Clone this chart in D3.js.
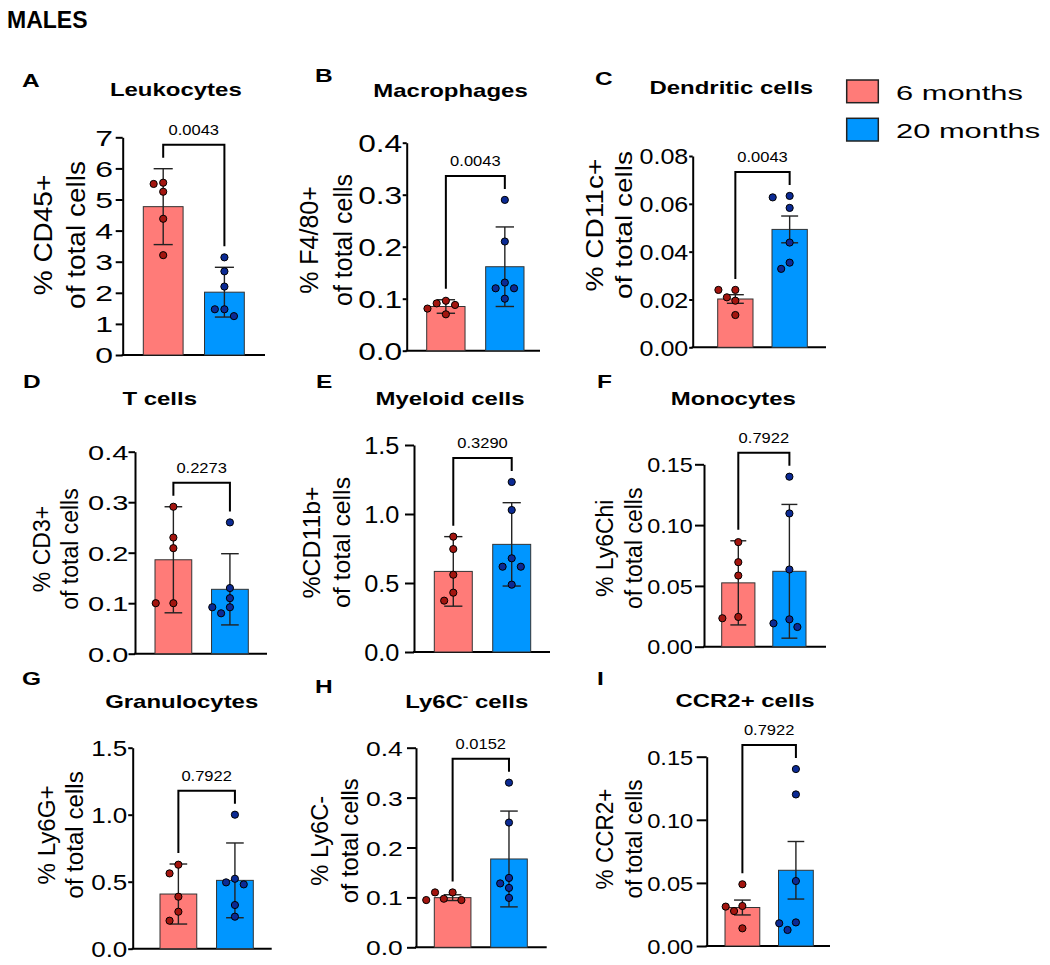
<!DOCTYPE html>
<html>
<head>
<meta charset="utf-8">
<script src="https://cdn.jsdelivr.net/npm/d3@7"></script>
<style>
  body { margin: 0; background: #fff; }
  text { font-family: Arial, "Liberation Sans", sans-serif; fill: #000; }
</style>
</head>
<body>
<svg id="chart" width="1050" height="965"></svg>
<script>
// ---- data ----
const groups = ['6 months', '20 months'];
const letters = ['A', 'B', 'C', 'D', 'E', 'F', 'G', 'H', 'I'];
const titles = ['Leukocytes', 'Macrophages', 'Dendritic cells', 'T cells', 'Myeloid cells',
  'Monocytes', 'Granulocytes', 'Ly6C- cells', 'CCR2+ cells'];
const yLabels = [
  ['% CD45+', 'of total cells'], ['% F4/80+', 'of total cells'], ['% CD11c+', 'of total cells'],
  ['% CD3+', 'of total cells'], ['%CD11b+', 'of total cells'], ['% Ly6Chi', 'of total cells'],
  ['% Ly6G+', 'of total cells'], ['% Ly6C-', 'of total cells'], ['% CCR2+', 'of total cells']
];
const yMax = [7, 0.4, 0.08, 0.4, 1.5, 0.15, 1.5, 0.4, 0.15];
const tickStep = [1, 0.1, 0.02, 0.1, 0.5, 0.05, 0.5, 0.1, 0.05];
const tickDecimals = [0, 1, 2, 1, 1, 2, 1, 1, 2];
const pValues = ['0.0043', '0.0043', '0.0043', '0.2273', '0.3290', '0.7922', '0.7922', '0.0152', '0.7922'];

const mean6 = [4.77, 0.085, 0.0202, 0.186, 0.584, 0.0525, 0.408, 0.0995, 0.0305];
const err6 = [1.22, 0.013, 0.0018, 0.105, 0.252, 0.0346, 0.224, 0.0058, 0.0059];
const mean20 = [2.02, 0.1615, 0.0493, 0.1275, 0.78, 0.062, 0.51, 0.177, 0.060];
const err20 = [0.80, 0.0765, 0.0056, 0.0705, 0.302, 0.055, 0.279, 0.096, 0.0228];

const points6 = [
  [5.54, 5.50, 5.25, 4.38, 3.21],
  [0.096, 0.091, 0.088, 0.081, 0.070],
  [0.0240, 0.0240, 0.0209, 0.0195, 0.0135],
  [0.291, 0.230, 0.209, 0.100, 0.100],
  [0.836, 0.746, 0.560, 0.430, 0.372],
  [0.086, 0.0695, 0.0585, 0.0245, 0.0234],
  [0.627, 0.562, 0.388, 0.276, 0.209],
  [0.110, 0.110, 0.0973, 0.0947, 0.0947],
  [0.0489, 0.0317, 0.0312, 0.0277, 0.014]
];
const points20 = [
  [3.14, 2.69, 2.20, 1.47, 1.47, 1.25],
  [0.290, 0.210, 0.131, 0.120, 0.120, 0.100],
  [0.0633, 0.0627, 0.0583, 0.0438, 0.0354, 0.0328],
  [0.260, 0.130, 0.110, 0.092, 0.092, 0.080],
  [1.232, 1.029, 0.679, 0.618, 0.618, 0.488],
  [0.1398, 0.1096, 0.0635, 0.0225, 0.0192, 0.0162],
  [1.0, 0.522, 0.495, 0.480, 0.326, 0.239],
  [0.330, 0.250, 0.139, 0.128, 0.119, 0.099],
  [0.1402, 0.1201, 0.0515, 0.0187, 0.018, 0.0127]
];

// ---- layout (pixels) ----
const frames = [
  { ax: 122.7, top: 137.3, bot: 355, xEnd: 265, b0: 143.3, b1: 244.3, letter: [22, 86.7], title: [175.8, 96] },
  { ax: 406.7, top: 142.7, bot: 350.7, xEnd: 540, b0: 426.7, b1: 524, letter: [315, 81.7], title: [450.5, 96.7] },
  { ax: 692.7, top: 156, bot: 347.3, xEnd: 826, b0: 717.7, b1: 807.3, letter: [595, 85], title: [731.3, 94.3] },
  { ax: 135, top: 451.7, bot: 653.7, xEnd: 267, b0: 155, b1: 248.3, letter: [23, 388.3], title: [159.7, 405] },
  { ax: 414, top: 445, bot: 652, xEnd: 550, b0: 434.3, b1: 530.7, letter: [316, 388.3], title: [450, 405] },
  { ax: 704, top: 464.3, bot: 646.7, xEnd: 826, b0: 721.7, b1: 806, letter: [597, 388.3], title: [733.3, 405] },
  { ax: 132.7, top: 747.7, bot: 948.7, xEnd: 271.7, b0: 160, b1: 253.3, letter: [22, 685], title: [181.7, 708.3] },
  { ax: 416, top: 747.7, bot: 947.3, xEnd: 546.7, b0: 434.3, b1: 527.3, letter: [315, 693.3], title: [466.7, 708.3] },
  { ax: 706.7, top: 756.7, bot: 946, xEnd: 830, b0: 725, b1: 813.3, letter: [597, 685], title: [745, 706.7] }
];
// tick font, horizontal stretch, tick length, label gap from axis
const tickStyle = [
  [22, 1.45, 7, 9.7], [24, 1.32, 4, 4.5], [22, 1.14, 3.5, 4.4],
  [21, 1.38, 6.5, 6.7], [23, 1.1, 9, 14.7], [20, 1.17, 9, 11.3],
  [22, 1.18, 4.5, 5.4], [21, 1.26, 9, 13.3], [21, 1.13, 10, 13.4]
];
// y label: baseline x line1, baseline x line2, centre y, font, stretch
const yLabStyle = [
  [51.7, 85, 235, 25, 1.12], [318, 352, 240, 25, 1.0], [603, 631.7, 225, 23, 1.22],
  [50, 78.3, 549, 23, 1.0], [320, 350, 542.5, 23, 1.08], [613, 641.7, 548.3, 23, 1.0],
  [55, 83.3, 835, 23, 1.05], [328, 358.3, 840.8, 23, 1.03], [613, 641.7, 839, 23, 0.98]
];

const fills = ['#FF7B78', '#0096FF'];
const dotFills = ['#A3150F', '#0B2A94'];

const svg = d3.select('#chart');

function stext(g, x, y, str, size, sx, anchor, weight) {
  return g.append('text')
    .attr('transform', `translate(${x},${y}) scale(${sx},1)`)
    .attr('text-anchor', anchor)
    .style('font-size', size + 'px')
    .style('font-weight', weight || 'normal')
    .text(str);
}

stext(svg, 7, 28.3, 'MALES', 23, 1, 'start', 'bold');

// simple swarm: keep points apart, try lanes 0, -s, +s, -2s, +2s
function swarm(vals, y, cx, s, minDist) {
  const placed = [];
  vals.forEach(v => {
    const py = y(v);
    const lanes = [0, -1, 1, -2, 2, -3, 3];
    for (const l of lanes) {
      const px = cx + l * s;
      if (placed.every(p => Math.hypot(p.x - px, p.y - py) >= minDist)) {
        placed.push({ x: px, y: py, v });
        break;
      }
    }
  });
  return placed;
}

frames.forEach((f, i) => {
  const g = svg.append('g');
  const y = d3.scaleLinear().domain([0, yMax[i]]).range([f.bot, f.top]);
  const x = d3.scaleBand().domain(groups).range([f.b0, f.b1]).paddingInner(0.35);
  const bw = x.bandwidth();

  // letter + title
  stext(g, f.letter[0], f.letter[1], letters[i], 17.5, 1.4, 'start', 'bold');
  if (titles[i] === 'Ly6C- cells') {
    const t = stext(g, f.title[0], f.title[1], '', 17.5, 1.37, 'middle', 'bold');
    t.append('tspan').text('Ly6C');
    t.append('tspan').attr('dy', -7).style('font-size', '12px').text('-');
    t.append('tspan').attr('dy', 7).text(' cells');
  } else {
    stext(g, f.title[0], f.title[1], titles[i], 17.5, 1.37, 'middle', 'bold');
  }

  // y axis
  const [tf, tsx, tlen, tgap] = tickStyle[i];
  const ticks = d3.range(0, yMax[i] + tickStep[i] / 2, tickStep[i]);
  const yAxis = d3.axisLeft(y).tickValues(ticks).tickSize(tlen).tickSizeOuter(0)
    .tickFormat(d3.format('.' + tickDecimals[i] + 'f'));
  const ag = g.append('g').attr('transform', `translate(${f.ax},0)`).call(yAxis);
  ag.select('.domain').attr('stroke', '#000').attr('stroke-width', 2);
  ag.selectAll('.tick line').attr('stroke', '#000').attr('stroke-width', 2);
  ag.selectAll('.tick text')
    .attr('x', null).attr('dy', null)
    .attr('transform', `translate(${-tgap},${tf * 0.36}) scale(${tsx},1)`)
    .style('font-size', tf + 'px')
    .style('font-family', 'Arial, "Liberation Sans", sans-serif')
    .attr('fill', '#000');

  // x axis line
  g.append('line').attr('x1', f.ax - 1).attr('x2', f.xEnd).attr('y1', y(0)).attr('y2', y(0))
    .attr('stroke', '#000').attr('stroke-width', 2);

  // y label
  const [bx1, bx2, cy, lf, lsx] = yLabStyle[i];
  [bx1, bx2].forEach((bx, k) => {
    g.append('text')
      .attr('transform', `translate(${bx},${cy}) rotate(-90) scale(${lsx},1)`)
      .attr('text-anchor', 'middle')
      .style('font-size', lf + 'px')
      .text(yLabels[i][k]);
  });

  const means = [mean6[i], mean20[i]];
  const errs = [err6[i], err20[i]];
  const pts = [points6[i], points20[i]];

  // bars
  g.selectAll('.bar').data(groups).enter().append('rect')
    .attr('x', d => x(d)).attr('width', bw)
    .attr('y', (d, j) => y(means[j]))
    .attr('height', (d, j) => y(0) - y(means[j]))
    .attr('fill', (d, j) => fills[j])
    .attr('stroke', '#333').attr('stroke-width', 1);

  // error bars
  groups.forEach((gname, j) => {
    const cx = x(gname) + bw / 2;
    const hi = y(means[j] + errs[j]);
    const lo = y(means[j] - errs[j]);
    const cw = bw * 0.24;
    const eg = g.append('g').attr('stroke', '#222').attr('stroke-width', 1.4);
    eg.append('line').attr('x1', cx).attr('x2', cx).attr('y1', hi).attr('y2', lo);
    eg.append('line').attr('x1', cx - cw).attr('x2', cx + cw).attr('y1', hi).attr('y2', hi);
    eg.append('line').attr('x1', cx - cw).attr('x2', cx + cw).attr('y1', lo).attr('y2', lo);
  });

  // dots
  groups.forEach((gname, j) => {
    const cx = x(gname) + bw / 2;
    const placed = swarm(pts[j], y, cx, bw * 0.24, 9);
    g.selectAll(null).data(placed).enter().append('circle')
      .attr('cx', d => d.x).attr('cy', d => d.y).attr('r', 3.6)
      .attr('fill', dotFills[j]).attr('stroke', '#000').attr('stroke-width', 1);
  });

  // significance bracket
  const groupTop = [0, 1].map(j => Math.max(d3.max(pts[j]), means[j] + errs[j]));
  const topY = y(d3.max(groupTop)) - 24;
  const xl = x(groups[0]) + bw / 2;
  const xr = x(groups[1]) + bw / 2;
  g.append('path')
    .attr('d', `M${xl},${y(groupTop[0]) - 11}V${topY}H${xr}V${y(groupTop[1]) - 11}`)
    .attr('fill', 'none').attr('stroke', '#000').attr('stroke-width', 2);
  stext(g, (xl + xr) / 2, topY - 10, pValues[i], 14, 1.18, 'middle');
});

// legend
const legend = svg.append('g');
groups.forEach((gname, j) => {
  const ly = 80 + j * 38.3;
  legend.append('rect').attr('x', 846.7).attr('y', ly).attr('width', 31.6).attr('height', 22.7)
    .attr('fill', fills[j]).attr('stroke', '#222').attr('stroke-width', 1.5);
  stext(legend, 896, ly + 20, gname, 21, 1.47, 'start');
});
</script>
</body>
</html>
